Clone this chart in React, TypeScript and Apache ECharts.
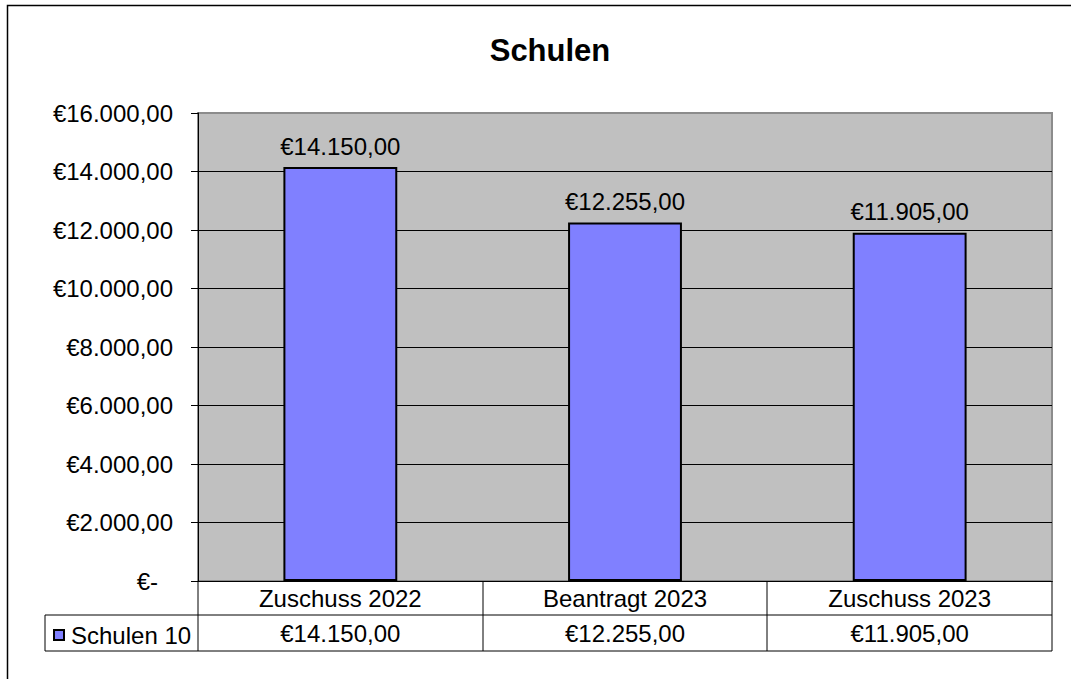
import React, { useEffect, useRef } from "react";
import * as echarts from "echarts";

const categories = ["Zuschuss 2022", "Beantragt 2023", "Zuschuss 2023"];
const values = [14150, 12255, 11905];
const seriesName = "Schulen 10";
const chartTitle = "Schulen";
const yMin = 0;
const yMax = 16000;
const yInterval = 2000;

function euro(n: number): string {
  if (n === 0) return "€-";
  const fixed = n.toFixed(2);
  const [intPart, dec] = fixed.split(".");
  const withDots = intPart.replace(/\B(?=(\d{3})+(?!\d))/g, ".");
  return "€" + withDots + "," + dec;
}

const FONT = "'Liberation Sans', Arial, sans-serif";
const FS = 24;

export default function App() {
  const ref = useRef<HTMLDivElement>(null);
  useEffect(() => {
    if (!ref.current) return;
    const chart = echarts.init(ref.current, null, { renderer: "svg" });
    const L = 198, T = 113, R = 1052, B = 581;
    const row1 = 615, row2 = 651, legL = 45;
    const colW = (R - L) / categories.length;
    const lineStyle = { stroke: "#000", lineWidth: 1 };
    const tableLines: any[] = [
      { type: "line", shape: { x1: legL, y1: row1, x2: R, y2: row1 }, style: lineStyle },
      { type: "line", shape: { x1: legL, y1: row2, x2: R, y2: row2 }, style: lineStyle },
      { type: "line", shape: { x1: legL, y1: row1, x2: legL, y2: row2 }, style: lineStyle },
      { type: "line", shape: { x1: L, y1: B, x2: L, y2: row2 }, style: lineStyle },
      { type: "line", shape: { x1: R, y1: B, x2: R, y2: row2 }, style: lineStyle },
    ];
    for (let i = 1; i < categories.length; i++) {
      const x = Math.round(L + colW * i);
      tableLines.push({ type: "line", shape: { x1: x, y1: B, x2: x, y2: row2 }, style: lineStyle });
    }
    chart.setOption({
      animation: false,
      backgroundColor: "#fff",
      textStyle: { fontFamily: FONT },
      title: {
        text: chartTitle,
        left: 545,
        textAlign: "center",
        top: 30,
        textStyle: { fontFamily: FONT, fontWeight: "bold", fontSize: 31, color: "#000" },
      },
      legend: {
        data: [seriesName],
        left: 48,
        top: 618,
        orient: "horizontal",
        icon: "rect",
        itemWidth: 10,
        itemHeight: 10,
        itemStyle: { borderColor: "#000", borderWidth: 2 },
        textStyle: { fontFamily: FONT, fontSize: FS, color: "#000", padding: [0, 0, 0, 2] },
      },
      grid: {
        left: L,
        top: T,
        right: 1071 - R,
        bottom: 679 - B,
        show: true,
        backgroundColor: "#C0C0C0",
        borderColor: "#8c8c8c",
        borderWidth: 2,
      },
      xAxis: [
        {
          type: "category",
          data: categories,
          position: "bottom",
          axisLine: { show: true, lineStyle: { color: "#000", width: 1 } },
          axisTick: { show: false },
          axisLabel: {
            fontFamily: FONT,
            fontSize: FS,
            color: "#000",
            margin: 17,
            verticalAlign: "middle",
            interval: 0,
          },
        },
        {
          type: "category",
          data: values.map(euro),
          position: "bottom",
          offset: row1 - B,
          axisLine: { show: false },
          axisTick: { show: false },
          axisLabel: {
            fontFamily: FONT,
            fontSize: FS,
            color: "#000",
            margin: 18,
            verticalAlign: "middle",
            interval: 0,
          },
        },
      ],
      yAxis: {
        type: "value",
        min: yMin,
        max: yMax,
        interval: yInterval,
        axisLine: { show: true, lineStyle: { color: "#000", width: 1 } },
        axisTick: { show: true, length: 7, lineStyle: { color: "#000" } },
        splitLine: { show: true, showMaxLine: false, lineStyle: { color: "#000", width: 1 } },
        axisLabel: {
          fontFamily: FONT,
          fontSize: FS,
          color: "#000",
          margin: 25,
          formatter: (v: number) => (v === 0 ? "{z|€-}" : euro(v)),
          rich: { z: { fontFamily: FONT, fontSize: FS, color: "#000", padding: [0, 15, 0, 0] } },
        },
      },
      series: [
        {
          name: seriesName,
          type: "bar",
          data: values,
          xAxisIndex: 0,
          barWidth: "40%",
          itemStyle: { color: "#8080FF", borderColor: "#000", borderWidth: 2 },
          label: {
            show: true,
            position: "top",
            distance: 9,
            fontFamily: FONT,
            fontSize: FS,
            color: "#000",
            formatter: (p: any) => euro(p.value),
          },
        },
      ],
      graphic: [
        {
          type: "rect",
          shape: { x: 7.5, y: 5.5, width: 1200, height: 800 },
          style: { fill: "none", stroke: "#000", lineWidth: 1.5 },
          silent: true,
          z: 100,
        },
        ...tableLines,
      ],
    });
    return () => chart.dispose();
  }, []);
  return (
    <div
      ref={ref}
      style={{ position: "absolute", left: 0, top: 0, width: 1071, height: 679 }}
    />
  );
}
